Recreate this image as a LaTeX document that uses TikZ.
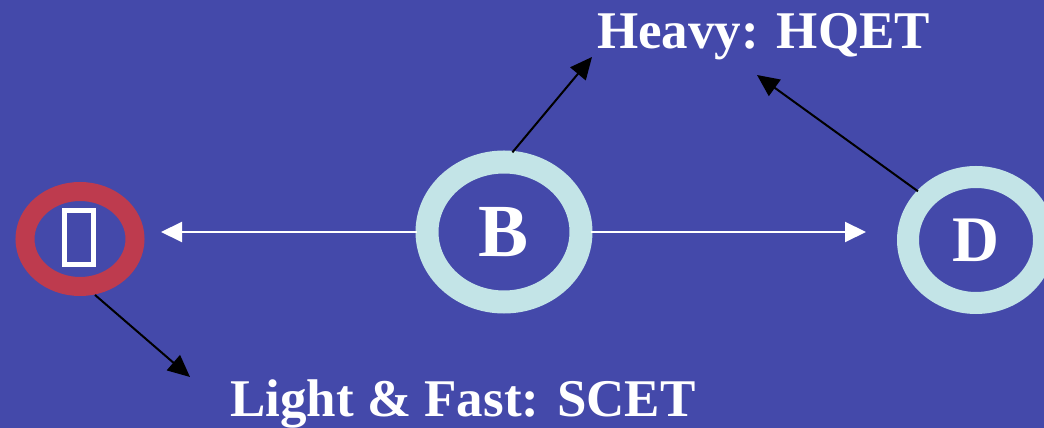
\documentclass[tikz,border=0pt]{standalone}
\usepackage{fontspec}
\setmainfont{Liberation Serif}
\usepackage{xcolor}
\definecolor{Slate}{HTML}{4449AA}
\definecolor{Ice}{HTML}{C3E4E7}
\definecolor{Brick}{HTML}{BE3B4E}
\colorlet{bg}{Slate}
\colorlet{icering}{Ice}
\colorlet{redring}{Brick}
\usetikzlibrary{arrows.meta,positioning,shapes.geometric,calc}

\begin{document}
\begin{tikzpicture}[x=1pt,y=1pt,
  every node/.style={font=\bfseries,text=white},
  ring/.style={ellipse,inner sep=0pt,outer sep=10pt},
  warrow/.style={-{Triangle[length=21pt,width=20pt]},white,line width=2pt},
  barrow/.style={-{Triangle[length=22pt,width=20pt]},black,line width=2pt}]
\fill[bg] (0,0) rectangle (1044,428);
\clip (0,0) rectangle (1044,428);
% mesons
\node[ring,draw=redring,line width=19pt,minimum width=110pt,minimum height=95pt] (pion) at (80,189) {};
\node[draw=white,line width=5pt,minimum width=29pt,minimum height=54pt,inner sep=0pt] (glyph) at (79,190) {};
\node[ring,draw=icering,line width=23pt,minimum width=154pt,minimum height=140pt,font=\bfseries\fontsize{75}{80}\selectfont] (bmes) at (504,196) {B};
\node[ring,draw=icering,line width=22pt,minimum width=136pt,minimum height=126pt,font=\bfseries\fontsize{65}{70}\selectfont] (dmes) at (976,188) {D};
% labels
\node[anchor=base west,inner sep=0pt,font=\bfseries\fontsize{53}{60}\selectfont] (heavy) at (597,379) {Heavy: HQET};
\node[anchor=base west,inner sep=0pt,font=\bfseries\fontsize{53}{60}\selectfont] (light) at (230,11) {Light \& Fast: SCET};
\coordinate (hqa) at (592,371);
\coordinate (hqb) at (757,353);
\coordinate (sc) at (190,51);
% decays
\draw[warrow,shorten >=16pt] (bmes.west) -- (bmes.west -| pion.east);
\draw[warrow,shorten >=32pt] (bmes.east) -- (bmes.east -| dmes.west);
\draw[barrow] (bmes.84) -- (hqa);
\draw[barrow] (dmes.140) -- (hqb);
\draw[barrow] (pion.-75) -- (sc);
\end{tikzpicture}
\end{document}
